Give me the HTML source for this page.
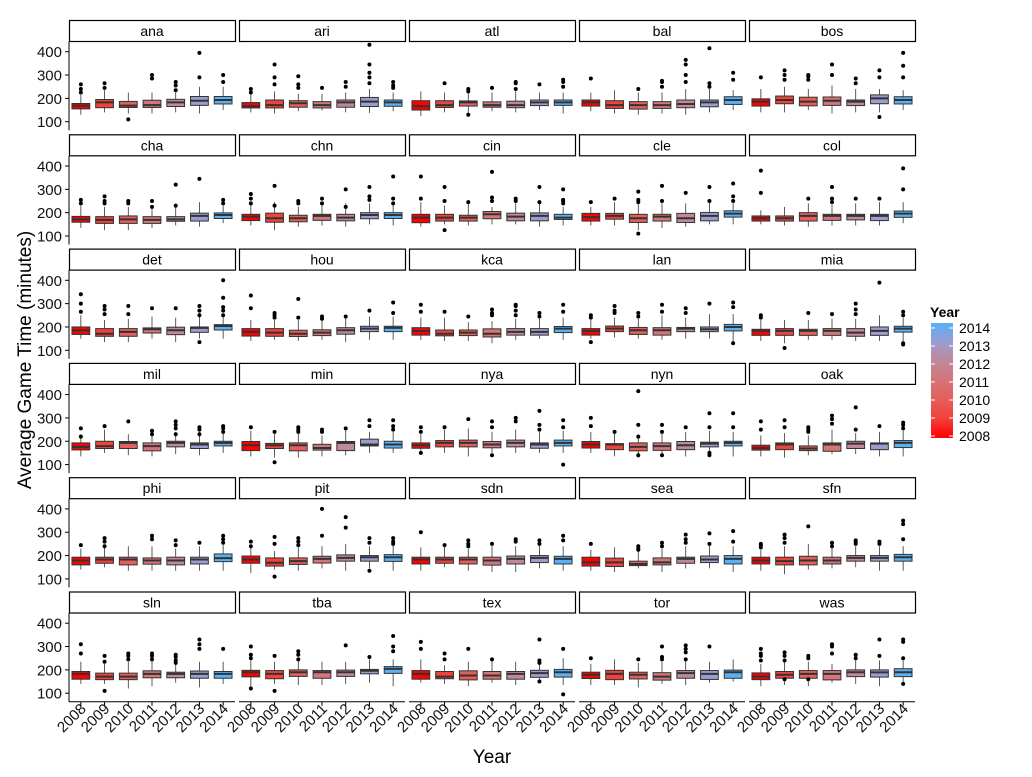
<!DOCTYPE html>
<html><head><meta charset="utf-8"><style>
html,body{margin:0;padding:0;background:#fff}
svg{display:block;font-family:"Liberation Sans",Arial,sans-serif}
</style></head><body>
<svg id="chart" width="1032" height="777" viewBox="0 0 1032 777" xmlns="http://www.w3.org/2000/svg">
<text x="0" y="0" transform="translate(31,360) rotate(-90)" text-anchor="middle" font-size="19" fill="#000">Average Game Time (minutes)</text>
<text x="492" y="763" text-anchor="middle" font-size="19" fill="#000">Year</text>
<g>
<defs><linearGradient id="lg" x1="0" y1="1" x2="0" y2="0">
<stop offset="0" stop-color="#FF0000"/><stop offset="0.1667" stop-color="#F2403A"/><stop offset="0.3333" stop-color="#E45E5A"/><stop offset="0.5" stop-color="#D57479"/><stop offset="0.6667" stop-color="#C08898"/><stop offset="0.8333" stop-color="#9B9DD0"/><stop offset="1" stop-color="#56B1F7"/></linearGradient></defs>
<text x="930" y="317" font-size="14" font-weight="bold">Year</text>
<rect x="931" y="323" width="22" height="115" fill="url(#lg)"/>
<g id="legendTicks"></g>
</g>
<g id="panels"></g>
</svg>
<script>
const teams=["ana","ari","atl","bal","bos","cha","chn","cin","cle","col","det","hou","kca","lan","mia","mil","min","nya","nyn","oak","phi","pit","sdn","sea","sfn","sln","tba","tex","tor","was"];
const years=[2008,2009,2010,2011,2012,2013,2014];
const yTicks=[100,200,300,400];
const medians=[
[169,183,169,171,183,190,193],[167,171,179,171,183,186,183],[166,171,183,171,171,183,183],[183,171,171,171,176,183,193],[186,193,186,190,186,200,193],
[171,169,171,169,171,186,190],[183,176,176,186,179,190,190],[179,179,179,193,183,186,179],[181,186,176,183,176,186,196],[176,176,186,186,186,186,196],
[186,171,179,190,186,196,204],[179,176,171,176,186,193,196],[183,171,176,171,179,179,193],[183,193,186,186,193,190,200],[183,183,183,183,176,183,193],
[176,179,193,179,193,186,193],[183,183,183,171,193,186,186],[183,193,193,186,193,186,193],[186,186,176,179,183,190,193],[171,186,169,186,190,190,193],
[179,183,183,179,179,183,189],[183,169,176,186,190,193,193],[183,183,183,179,186,190,186],[171,171,164,171,186,183,186],[179,176,179,179,190,190,193],
[183,171,171,183,183,183,183],[190,183,190,190,190,196,204],[183,171,176,176,183,186,190],[179,183,179,171,186,183,190],[171,179,183,183,190,189,190]];
const q1s=[
[155,160,161,161,165,170,176],[159,159,162,159,162,165,166],[150,161,167,162,160,169,170],[167,157,154,157,160,164,174],[167,177,168,170,169,177,176],
[159,154,154,154,163,164,175],[166,159,161,167,165,174,175],[157,164,164,174,165,165,171],[164,172,158,164,158,165,181],[164,164,164,167,169,166,180],
[168,160,160,174,167,177,187],[161,160,159,163,169,180,180],[165,162,163,157,165,165,176],[165,180,168,165,180,180,183],[164,164,164,164,160,164,178],
[163,169,169,159,176,169,180],[160,169,159,162,160,180,171],[170,176,176,172,176,170,180],[171,164,159,161,164,176,180],[162,164,160,157,169,164,173],
[160,167,160,163,160,164,174],[167,155,162,168,176,176,175],[164,167,164,159,164,170,164],[155,153,157,160,167,170,164],[164,160,160,164,176,176,176],
[160,158,158,166,166,164,164],[170,162,172,164,172,183,185],[160,162,157,160,160,168,169],[163,158,161,156,164,159,164],[158,164,164,157,171,169,171]];
const q3s=[
[178,195,187,192,196,208,208],[182,193,190,186,193,204,193],[190,190,189,185,188,193,193],[193,190,186,186,193,193,207],[198,210,205,206,193,215,207],
[184,183,186,183,183,198,199],[193,198,189,193,193,200,200],[193,193,189,205,198,199,193],[197,197,193,193,197,201,208],[186,186,200,193,193,193,207],
[200,193,193,196,199,200,210],[193,193,186,188,197,203,203],[197,187,187,192,193,193,202],[193,204,198,197,198,200,211],[190,193,190,193,193,200,203],
[193,200,199,193,200,193,200],[199,191,193,187,199,209,200],[193,203,205,199,205,193,205],[199,190,193,193,199,196,200],[183,193,180,193,200,193,203],
[193,193,193,190,193,193,207],[198,190,190,197,203,200,204],[193,193,193,193,198,200,197],[193,189,176,190,193,198,200],[193,193,197,193,200,200,205],
[193,186,186,196,190,195,193],[198,197,200,197,199,202,214],[197,193,196,193,193,198,202],[190,198,190,188,197,197,199],[187,193,197,197,200,200,205]];
const lows=[
[130,140,135,135,140,135,150],[140,135,145,148,140,138,145],[125,140,130,145,140,150,135],[145,135,130,135,130,140,150],[140,140,150,135,140,140,150],
[135,125,125,135,145,140,155],[145,125,140,145,140,150,145],[140,150,145,150,150,140,145],[145,145,125,135,140,150,150],[150,145,140,145,145,145,155],
[150,135,135,150,135,150,150],[140,145,140,145,135,145,145],[145,140,140,130,145,150,145],[150,155,150,145,150,150,130],[140,130,145,145,140,140,140],
[135,150,140,135,145,140,150],[135,130,130,135,140,150,150],[150,150,135,150,150,150,150],[150,135,130,135,135,140,135],[135,130,140,145,145,135,135],
[140,150,135,135,135,135,135],[125,140,135,145,135,145,135],[135,150,135,130,130,145,135],[135,130,145,130,145,145,130],[135,120,140,145,150,135,135],
[140,140,120,130,145,125,140],[125,140,135,135,140,145,130],[145,140,130,145,135,155,135],[135,135,125,140,135,145,150],[130,135,130,145,140,130,135]];
const highs=[
[215,235,225,225,225,250,250],[225,230,220,220,225,240,225],[230,225,225,225,230,225,225],[225,235,225,225,240,240,235],[240,250,240,255,240,240,235],
[230,225,225,225,230,245,230],[240,245,225,240,240,240,240],[245,230,240,225,240,245,225],[225,245,240,240,240,250,240],[210,225,240,235,240,245,245],
[250,230,235,245,240,260,250],[230,230,230,240,245,245,245],[240,240,220,225,235,235,240],[230,240,235,250,240,255,255],[230,230,230,235,235,250,240],
[230,250,230,225,240,240,235],[245,230,240,225,250,240,240],[230,250,255,240,250,240,245],[240,240,230,235,240,245,240],[225,235,225,250,235,240,245],
[230,240,240,240,230,240,245],[245,220,235,240,250,240,245],[235,240,230,240,240,245,240],[225,235,225,230,240,245,240],[225,240,250,235,240,240,240],
[235,225,235,240,245,235,235],[240,235,240,235,235,245,245],[245,220,235,245,235,235,250],[225,245,230,235,240,235,245],[225,235,235,225,240,240,240]];
const outliers=[
[[225,240,260],[245,265],[110],[285,300],[235,255,270],[290,395],[270,300]],
[[225,240],[260,290,345],[245,260,295],[245],[250,270],[265,290,310,345,430],[245,255,270]],
[[],[265],[130,230,240],[245],[240,265,270],[260],[250,270,280]],
[[285],[],[240],[250,270,275],[270,300,345,365],[250,265,415],[280,310]],
[[290],[280,300,320],[280,295,300],[300,345],[285,265],[120,290,320],[290,340,395]],
[[240,255],[240,250,270],[240,250],[250,225],[230,320],[345],[240,255]],
[[240,260,280],[230,315],[240,250],[240,260],[225,300],[255,270,310],[240,260,355]],
[[260,355],[125,250,310],[245],[250,265,375],[250,260],[245,310],[240,250,255,300]],
[[245],[260],[110,245,255,290],[250,315],[285],[250,310],[250,270,325]],
[[285,380],[],[260],[245,260,310],[260],[260],[300,390]],
[[265,300,340],[255,275,290],[255,290],[280],[280],[135,250,270,290],[250,270,285,325,400]],
[[280,335],[240,250,260],[240,320],[235,245],[245],[270],[260,305]],
[[265,295],[265],[245],[250,260,275],[250,270,290,295],[245,260],[265,295]],
[[135,240,250],[260,270,290],[245,260],[265,295],[260,280],[300],[130,285,305]],
[[240,250],[110],[260],[255],[255,275,300],[390],[125,130,250,265]],
[[220,255],[265],[285],[230,245],[230,255,270,285],[230,250,260],[240,255,265]],
[[260],[110,240],[240,250,260],[240,250],[255],[265,290],[250,265,290]],
[[150,240,260],[260],[295],[140,260,285],[285,300],[250,270,330],[100,260,290]],
[[300,265],[240],[140,220,270,415],[140,240,270],[260],[140,150,260,320],[260,320]],
[[250,285],[260,290],[240,250,260],[275,295,310],[250,345],[265],[255,270,280]],
[[245],[240,260,275],[],[270,285],[245,265],[255],[255,270,285]],
[[240,260],[110,250,280],[245,260,275],[285,400],[320,365],[135,255,275],[250,260,275]],
[[300],[245],[240,250,265],[250],[260,270],[250,265],[265,285]],
[[250],[],[225,230,240],[240,255],[255,270,290],[250,295],[260,305]],
[[235,245,250],[255,275,290],[325],[240,255],[250,260,265],[250,260],[270,335,350]],
[[270,310],[110,235,260],[245,260,270],[245,260,270],[230,240,255,265],[290,310,330],[290]],
[[120,250,265,300],[110,260],[245,265,280],[],[305],[255],[280,300,345]],
[[290,320],[245,270],[290],[245],[],[150,230,240,330],[95,290]],
[[250],[],[245],[245,255,300],[245,275,290,305],[300],[]],
[[240,260,270,290],[160,240,260,275],[160,250,260],[270,300,310],[250,265],[260,330],[140,250,320,330]]];
const yearColors=["#FF0000","#F2403A","#E45E5A","#D57479","#C08898","#9B9DD0","#56B1F7"];

const NS="http://www.w3.org/2000/svg";
const root=document.getElementById('panels');
function mk(tag,attrs,parent){const e=document.createElementNS(NS,tag);for(const k in attrs)e.setAttribute(k,attrs[k]);parent.appendChild(e);return e;}
const PW=166,COLP=170,LEFT0=69,ROWP=114.3;
function yScale(v,r){return 51.7+ROWP*r+(400-v)*(70/300);}
function xScale(i,c){return LEFT0+COLP*c+(i+0.5)*PW/7;}
const bw=PW/7*0.75;
teams.forEach((t,ti)=>{
  const r=Math.floor(ti/5),c=ti%5;
  const px=LEFT0+COLP*c, sy=20+ROWP*r;
  const g=mk('g',{},root);
  
  
  const st=mk('rect',{x:px+0.5,y:sy+0.5,width:PW,height:21,fill:'#fff',stroke:'#000','stroke-width':1.2},g);
  
  
  const lab=mk('text',{x:px+PW/2,y:sy+16,'text-anchor':'middle','font-size':14},g);
  lab.textContent=t;
  
  
  const bottom=yScale(100,r)+8.5;
  if(c===0){
    const ax=mk('line',{x1:px,x2:px,y1:sy+21.5,y2:bottom,stroke:'#000','stroke-width':1},g);
    
    
    yTicks.forEach(v=>{
      const yy=yScale(v,r);
      mk('line',{x1:px-4,x2:px,y1:yy,y2:yy,stroke:'#000'},g);
      const tl=mk('text',{x:px-7,y:yy+5.5,'text-anchor':'end','font-size':15,fill:'#111'},g);
      tl.textContent=v;
      
      
    });
  }
  if(r===5){
    const xl=mk('line',{x1:px,x2:px+PW,y1:bottom,y2:bottom,stroke:'#000','stroke-width':1},g);
    
    
    years.forEach((yv,i)=>{
      const xx=xScale(i,c);
      mk('line',{x1:xx,x2:xx,y1:bottom,y2:bottom+4,stroke:'#000'},g);
      const tl=mk('text',{x:0,y:0,'text-anchor':'end','font-size':15,fill:'#111',transform:`translate(${xx+6},${bottom+8}) rotate(-45)`},g);
      tl.textContent=yv;
      
      
    });
  }
  years.forEach((yv,i)=>{
    const xx=xScale(i,c);
    const bg=mk('g',{},g);
    
    
    mk('line',{x1:xx,x2:xx,y1:yScale(highs[ti][i],r),y2:yScale(q3s[ti][i],r),stroke:'#333','stroke-width':0.8},bg);
    mk('line',{x1:xx,x2:xx,y1:yScale(q1s[ti][i],r),y2:yScale(lows[ti][i],r),stroke:'#333','stroke-width':0.8},bg);
    const yt=yScale(q3s[ti][i],r),yb=yScale(q1s[ti][i],r);
    mk('rect',{x:xx-bw/2,y:yt,width:bw,height:yb-yt,fill:yearColors[i],stroke:'#333','stroke-width':1},bg);
    const ym=yScale(medians[ti][i],r);
    mk('line',{x1:xx-bw/2,x2:xx+bw/2,y1:ym,y2:ym,stroke:'#333','stroke-width':2},bg);
    (outliers[ti][i]||[]).forEach(o=>{
      const p=mk('circle',{cx:xx,cy:yScale(o,r),r:2,fill:'#000'},bg);
      
      
    });
  });
});
const lt=document.getElementById('legendTicks');
years.forEach((yv,i)=>{
  const yy=436-i*18;
  mk('line',{x1:931,x2:935,y1:yy,y2:yy,stroke:'#fff'},lt);
  mk('line',{x1:949,x2:953,y1:yy,y2:yy,stroke:'#fff'},lt);
  const tl=mk('text',{x:959,y:yy+5,'font-size':14,fill:'#000'},lt);
  tl.textContent=yv;
  
  
});
</script>
</body></html>
